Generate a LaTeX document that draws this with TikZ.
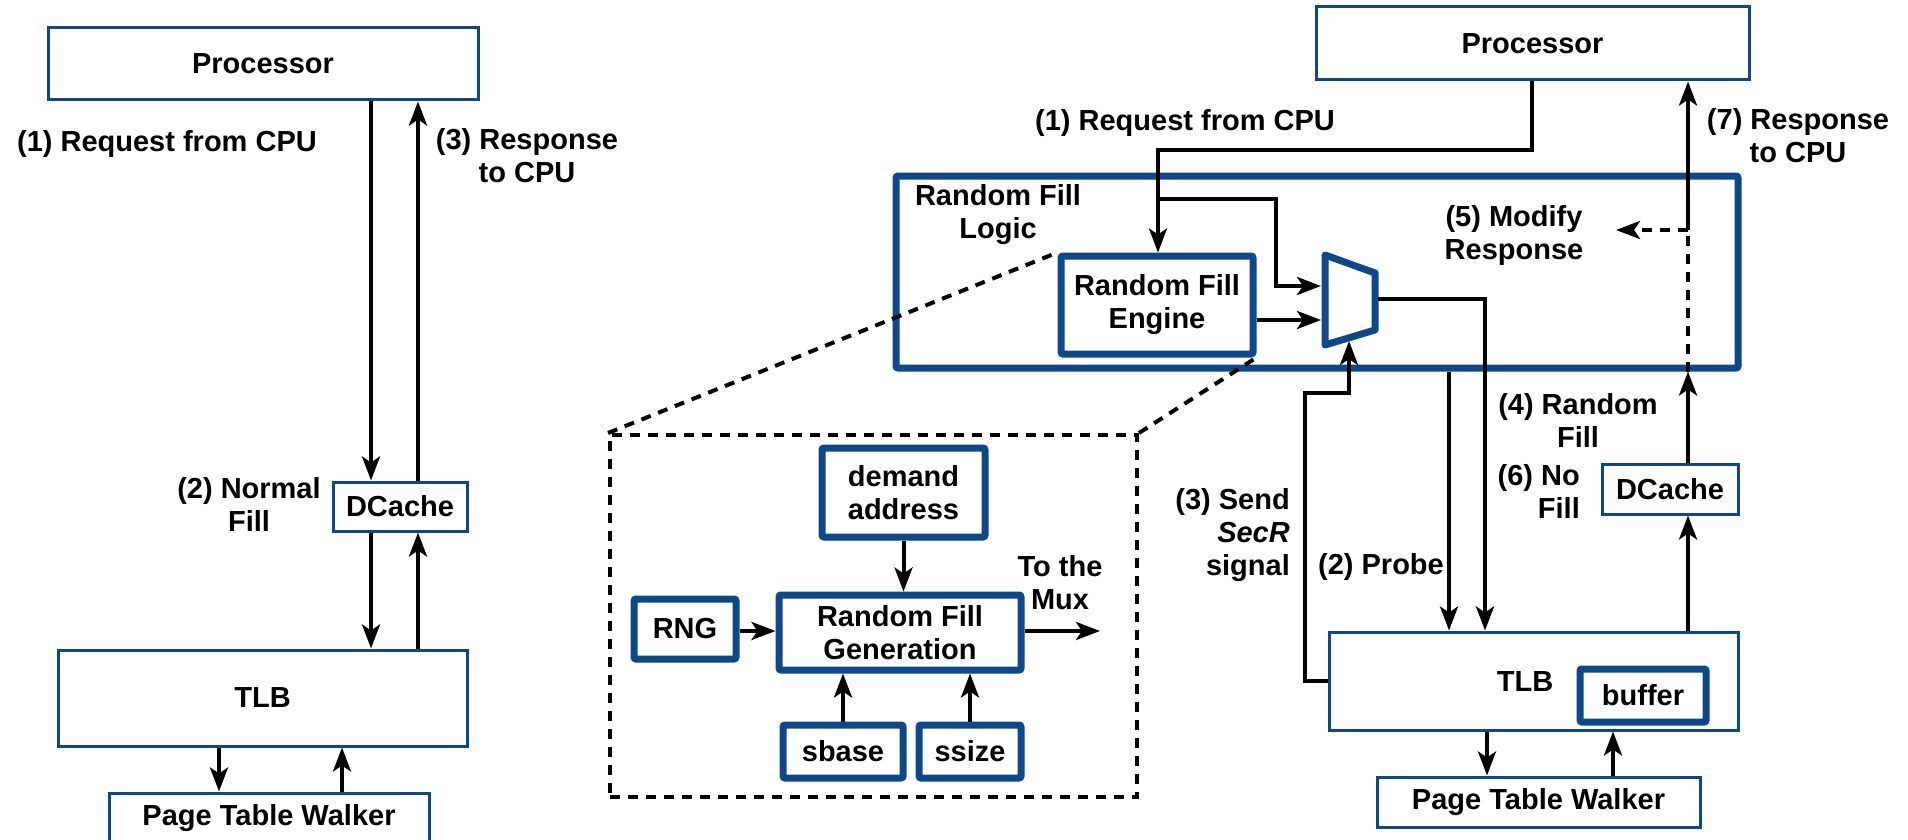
\documentclass[tikz,border=0pt]{standalone}
\usepackage{fontspec}
\setmainfont{Liberation Sans}
\usetikzlibrary{arrows.meta}
\definecolor{bl}{RGB}{12,72,138}
\begin{document}
\begin{tikzpicture}[x=1pt,y=-1pt,
  every node/.style={font=\bfseries\fontsize{29}{33}\selectfont},
  thinbox/.style={draw=bl, line width=3pt, fill=white, inner sep=0pt, align=center},
  thickbox/.style={draw=bl, line width=7pt, fill=white, inner sep=0pt, rounded corners=2pt, align=center},
  wire/.style={line width=4pt, line join=miter},
  conn/.style={line width=4pt, -{Stealth[length=24pt,width=18pt,inset=6pt]}},
  dashline/.style={line width=4pt, dash pattern=on 10pt off 8pt},
  lbl/.style={align=center, inner sep=0pt},
]
\useasboundingbox (0,0) rectangle (1908,840);

% ---------------- left: normal system ----------------
\node[thinbox, minimum width=430, minimum height=72] (procL) at (263,64) {Processor};
\node[thinbox, minimum width=134, minimum height=49] (dcL) at (400,506.5) {DCache};
\node[thinbox, minimum width=409, minimum height=96] (tlbL) at (262.5,698) {TLB};
\node[thinbox, minimum width=320, minimum height=50] (ptwL) at (269,818) {Page Table Walker};

\coordinate (cA) at (371,0);
\coordinate (cB) at (418,0);
\coordinate (cC) at (219,0);
\coordinate (cD) at (342,0);
\draw[conn] (cA |- procL.south) -- (cA |- dcL.north);
\draw[conn] (cB |- dcL.north) -- (cB |- procL.south);
\draw[conn] (cA |- dcL.south) -- (cA |- tlbL.north);
\draw[conn] (cB |- tlbL.north) -- (cB |- dcL.south);
\draw[conn] (cC |- tlbL.south) -- (cC |- ptwL.north);
\draw[conn] (cD |- ptwL.north) -- (cD |- tlbL.south);

\node[lbl] (l1) at (167,144) {(1) Request from CPU};
\node[lbl] (l3) at (527,156) {(3) Response\\to CPU};
\node[lbl] (l2) at (249,504) {(2) Normal\\Fill};

% ---------------- right: random fill system ----------------
\node[thinbox, minimum width=433, minimum height=73] (procR) at (1532.5,43.5) {Processor};
\node[thickbox, fill=none, minimum width=842, minimum height=192] (RFL) at (1317,272) {};
\node[lbl] (rfllbl) at (998,215) {Random Fill\\Logic};
\node[thickbox, minimum width=192, minimum height=98] (RFE) at (1157,305) {Random Fill\\Engine};

\coordinate (muxA) at (1325,255);
\coordinate (muxB) at (1375,273);
\coordinate (muxC) at (1375,330);
\coordinate (muxD) at (1325,345);
\draw[draw=bl, line width=7pt, line join=round, fill=white] (muxA) -- (muxB) -- (muxC) -- (muxD) -- cycle;
\coordinate (mIn1) at (1321,286);
\coordinate (mIn2) at (1321,320);
\coordinate (mIn3) at (1349,341);
\coordinate (mOut) at (1378,299);

\node[thinbox, minimum width=409, minimum height=98] (tlbR) at (1533.5,681) {};
\node[lbl] (tlbRlbl) at (1525,682) {TLB};
\node[thickbox, minimum width=126, minimum height=53] (buf) at (1643,695.5) {buffer};
\node[thinbox, minimum width=136, minimum height=50] (dcR) at (1670,489) {DCache};
\node[thinbox, minimum width=323, minimum height=50] (ptwR) at (1538.5,802) {Page Table Walker};

% request from CPU
\coordinate (rq1) at (1532,150);
\coordinate (rq2) at (1158,150);
\coordinate (rq3) at (1158,199);
\coordinate (rq4) at (1276,199);
\coordinate (rq5) at (1276,286);
\draw[wire] (procR.south -| rq1) -- (rq1) -- (rq2) -- (rq3);
\draw[conn] (rq3) -- (RFE.north -| rq2);
\draw[conn] (rq3) -- (rq4) -- (rq5) -- (mIn1);
\draw[conn] (RFE.east |- mIn2) -- (mIn2);

% mux output -> TLB
\coordinate (mo2) at (1485,299);
\draw[conn] (mOut) -- (mo2) -- (mo2 |- tlbR.north);
% probe
\coordinate (pr) at (1449,0);
\draw[conn] (pr |- RFL.south) -- (pr |- tlbR.north);
% SecR signal
\coordinate (s1) at (1305,681);
\coordinate (s2) at (1305,393);
\coordinate (s3) at (1349,393);
\draw[conn] (tlbR.west) -- (s1) -- (s2) -- (s3) -- (mIn3);

% response path
\coordinate (dc) at (1688,0);
\coordinate (m5) at (1688,230);
\coordinate (m5t) at (1616,230);
\draw[conn] (dc |- tlbR.north) -- (dc |- dcR.south);
\draw[conn] (dc |- dcR.north) -- (dc |- RFL.south);
\draw[dashline] (dc |- RFL.south) -- (m5);
\draw[dashline, -{Stealth[length=24pt,width=18pt,inset=6pt]}] (m5) -- (m5t);
\draw[conn] (m5) -- (dc |- procR.south);

% PTW
\coordinate (pw1) at (1487,0);
\coordinate (pw2) at (1613,0);
\draw[conn] (pw1 |- tlbR.south) -- (pw1 |- ptwR.north);
\draw[conn] (pw2 |- ptwR.north) -- (pw2 |- tlbR.south);

% labels right
\node[lbl] (r1) at (1185,123) {(1) Request from CPU};
\node[lbl] (r7) at (1798,136) {(7) Response\\to CPU};
\node[lbl] (r5) at (1514,236) {(5) Modify\\Response};
\node[lbl] (r4) at (1578,420) {(4) Random\\Fill};
\node[lbl, align=right, anchor=east] (r6) at (1580,491) {(6) No\\Fill};
\node[lbl, align=right, anchor=east] (r3) at (1290,535) {(3) Send\\\textit{SecR}\\signal};
\node[lbl] (r2) at (1381,567) {(2) Probe};

% ---------------- zoom box ----------------
\node[draw, dashline, minimum width=527, minimum height=362, inner sep=0pt] (zbox) at (873.5,616) {};
\draw[dashline] (zbox.north west) -- (RFE.north west);
\draw[dashline] (zbox.north east) -- (RFE.south east);

\node[thickbox, minimum width=163, minimum height=89] (dem) at (903.5,492.5) {demand\\address};
\node[thickbox, minimum width=102, minimum height=60] (rng) at (685,629) {RNG};
\node[thickbox, minimum width=242, minimum height=75] (rfg) at (900,632.5) {Random Fill\\Generation};
\node[thickbox, minimum width=120, minimum height=53] (sbase) at (843,751.5) {sbase};
\node[thickbox, minimum width=102, minimum height=53] (ssize) at (970,751.5) {ssize};
\coordinate (tomux) at (1100,631);
\draw[conn] (dem.south) -- (dem.south |- rfg.north);
\draw[conn] (rng.east |- tomux) -- (rfg.west |- tomux);
\draw[conn] (sbase.north) -- (sbase.north |- rfg.south);
\draw[conn] (ssize.north) -- (ssize.north |- rfg.south);
\draw[conn] (rfg.east |- tomux) -- (tomux);
\node[lbl] (tm) at (1060,583) {To the\\Mux};
\end{tikzpicture}
\end{document}
